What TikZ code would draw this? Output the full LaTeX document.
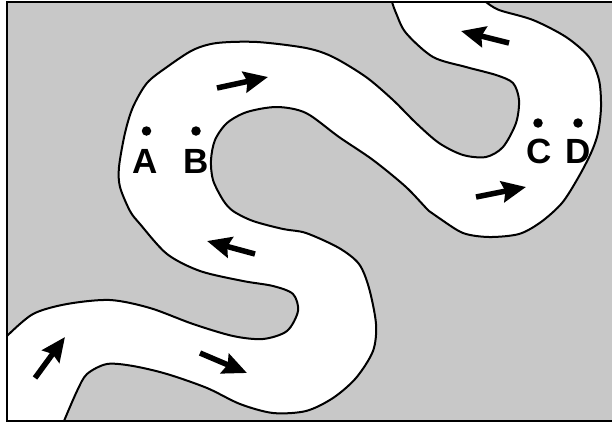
\documentclass[tikz,border=0pt]{standalone}
\usepackage{fontspec}
\setmainfont{Liberation Sans}
\usetikzlibrary{arrows.meta}
\definecolor{land}{RGB}{200,200,200}
\tikzset{
  bank/.style={line width=2pt, line join=round},
  flow/.style={line width=5.5pt, -{Stealth[length=24pt,width=21pt,inset=3pt]}},
  pin/.style={circle, fill=black, inner sep=0pt, minimum size=9.5pt},
  lbl/.style={inner sep=0pt, font=\fontsize{35}{35}\selectfont\bfseries}
}
\begin{document}
\begin{tikzpicture}[x=1pt,y=-1pt]
\useasboundingbox (0,0) rectangle (612,423);
% land
\fill[land] (7,2) rectangle (620,421);
% river water
\fill[white] plot[smooth] coordinates {(7,336) (33,314) (67,304) (110,300) (150,308) (193,324) (233,336) (263,339) (287,331) (298,311) (293,294) (273,286) (243,281) (200,271) (167,254) (140,224) (130,211) (120,187) (119,167) (125,133) (133,107) (147,83) (167,67) (193,50) (217,43) (257,42) (306,48) (333,57) (366,77) (393,100) (416,123) (439,143) (463,155) (486,157) (503,147) (516,123) (519,100) (513,83) (496,75) (466,67) (433,57) (406,33) (396,13) (392,2)}
  -- plot[smooth] coordinates {(486,2) (499,10) (533,20) (566,37) (589,57) (599,80) (601,107) (598,133) (591,153) (578,178) (562,203) (541,222) (519,234) (489,237) (463,233) (439,218) (429,211) (406,187) (373,160) (339,137) (306,113) (277,107) (247,112) (227,123) (215,140) (211,160) (213,180) (223,200) (233,211) (253,221) (283,229) (306,233) (339,248) (359,264) (369,288) (376,324) (373,351) (356,378) (333,398) (306,411) (273,413) (240,404) (207,388) (167,374) (133,366) (107,364) (87,374) (77,391) (64,421)}
  -- (7,421) -- cycle;
% banks
\draw[bank] plot[smooth] coordinates {(7,336) (33,314) (67,304) (110,300) (150,308) (193,324) (233,336) (263,339) (287,331) (298,311) (293,294) (273,286) (243,281) (200,271) (167,254) (140,224) (130,211) (120,187) (119,167) (125,133) (133,107) (147,83) (167,67) (193,50) (217,43) (257,42) (306,48) (333,57) (366,77) (393,100) (416,123) (439,143) (463,155) (486,157) (503,147) (516,123) (519,100) (513,83) (496,75) (466,67) (433,57) (406,33) (396,13) (392,2)};
\draw[bank] plot[smooth] coordinates {(486,2) (499,10) (533,20) (566,37) (589,57) (599,80) (601,107) (598,133) (591,153) (578,178) (562,203) (541,222) (519,234) (489,237) (463,233) (439,218) (429,211) (406,187) (373,160) (339,137) (306,113) (277,107) (247,112) (227,123) (215,140) (211,160) (213,180) (223,200) (233,211) (253,221) (283,229) (306,233) (339,248) (359,264) (369,288) (376,324) (373,351) (356,378) (333,398) (306,411) (273,413) (240,404) (207,388) (167,374) (133,366) (107,364) (87,374) (77,391) (64,421)};
% frame
\draw[line width=2pt] (620,2) -- (7,2) -- (7,421) -- (620,421);
% flow arrows
\coordinate (f1s) at (217,88);  \coordinate (f1e) at (268,77);
\coordinate (f2s) at (509,43);  \coordinate (f2e) at (461,31);
\coordinate (f3s) at (476,197); \coordinate (f3e) at (526,187);
\coordinate (f4s) at (255,254); \coordinate (f4e) at (207,241);
\coordinate (f5s) at (35,378);  \coordinate (f5e) at (65,337);
\coordinate (f6s) at (200,353); \coordinate (f6e) at (247,373);
\foreach \i in {1,...,6} \draw[flow] (f\i s) -- (f\i e);
% points and labels
\node[pin] (pA) at (146.5,131) {};
\node[pin] (pB) at (196,131) {};
\node[pin] (pC) at (538,123) {};
\node[pin] (pD) at (578,123) {};
\node[lbl] (A) at (145,161) {A};
\node[lbl] (B) at (196,161) {B};
\node[lbl] (C) at (539,151) {C};
\node[lbl] (D) at (578,151) {D};
\end{tikzpicture}
\end{document}
